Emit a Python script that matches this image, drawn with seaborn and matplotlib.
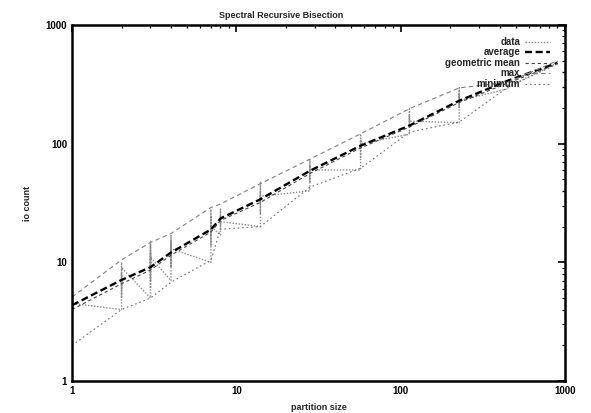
import matplotlib
matplotlib.use('Agg')
import matplotlib.pyplot as plt
import numpy as np
import pandas as pd
import seaborn as sns
from matplotlib.ticker import LogLocator, FixedLocator, FixedFormatter, NullFormatter

# %%
'''Data'''

## raw samples, one column of io counts per partition size
raw_sizes = [1, 2, 3, 4, 7, 8, 14, 28, 57, 113, 227, 450, 900]
raw_counts = [
    [2, 5, 3, 4, 2.5, 4.5],
    [4, 10, 6, 8, 5, 9],
    [5, 15, 7, 12, 6, 14, 9, 11],
    [7, 17, 9, 15, 11, 13],
    [10, 28, 14, 24, 17, 20],
    [17, 28, 20, 25, 22],
    [20, 48, 26, 40, 32, 36],
    [40, 74, 48, 66, 55, 60],
    [60, 121, 75, 108, 90, 100],
    [120, 196, 140, 175, 155],
    [150, 295, 200, 260, 230],
    [290, 320, 300],
    [480, 500],
]

## summary lines
sizes = [1, 2, 3, 4, 7, 8, 14, 28, 57, 113, 227, 450, 900]
average = [4.35, 7.1, 9.1, 12.1, 18.9, 23.4, 34, 59, 96, 142, 230, 340, 480]
geo_mean = [4.0, 6.6, 8.6, 11.5, 18, 22.5, 32, 56, 92, 138, 222, 325, 470]
max_count = [5.1, 10.5, 14.7, 17.5, 29, 31, 46, 74, 121, 197, 295, 330, 500]
min_count = [2, 4, 5, 6.8, 10.4, 19, 20, 43, 62, 125, 152, 300, 470]

raw = pd.DataFrame({
    'size': [s for s, c in zip(raw_sizes, raw_counts) for _ in c],
    'count': [v for c in raw_counts for v in c],
})

# %%
'''Plot'''

sns.set_style('white')
plt.rcParams['font.family'] = ['Liberation Sans', 'DejaVu Sans']
plt.rcParams['font.weight'] = 'bold'

fig, ax = plt.subplots(figsize=(5.91, 4.13), dpi=100)
fig.subplots_adjust(left=0.122, right=0.956, top=0.9395, bottom=0.0775)

sns.lineplot(data=raw, x='size', y='count', sort=False, estimator=None, ax=ax,
             color='#8a8a8a', lw=1.0, linestyle=(0, (1, 1.2)), label='data')
sns.lineplot(x=sizes, y=average, ax=ax, color='black', lw=1.7,
             linestyle=(0, (3, 1.5)), label='average')
sns.lineplot(x=sizes, y=geo_mean, ax=ax, color='#444444', lw=0.8,
             linestyle=(0, (3, 2.5)), label='geometric mean')
sns.lineplot(x=sizes, y=max_count, ax=ax, color='#808080', lw=0.8,
             linestyle=(0, (4, 3)), label='max')
sns.lineplot(x=sizes, y=min_count, ax=ax, color='#707070', lw=0.8,
             linestyle=(0, (1.5, 2.5)), label='minimum')

ax.set_xscale('log')
ax.set_yscale('log')
ax.set_xlim(1, 1000)
ax.set_ylim(1, 1000)

ticks = [1, 10, 100, 1000]
tick_labels = ['1', '10', '100', '1000']
for axis in (ax.xaxis, ax.yaxis):
    axis.set_major_locator(FixedLocator(ticks))
    axis.set_major_formatter(FixedFormatter(tick_labels))
    axis.set_minor_locator(LogLocator(base=10, subs=np.arange(2, 10)))
    axis.set_minor_formatter(NullFormatter())

ax.tick_params(which='both', direction='in', top=True, right=True,
               labelsize=7, colors='black')
ax.tick_params(which='major', length=5, width=1.2)
ax.tick_params(which='minor', length=2.5, width=0.9)
for sp in ax.spines.values():
    sp.set_linewidth(1.8)
    sp.set_color('black')

ax.set_title('Spectral Recursive Bisection', fontsize=6.5, fontweight='bold',
             pad=5, x=0.424)
ax.set_xlabel('partition size', fontsize=6.5, fontweight='bold', labelpad=5)
ax.set_ylabel('io count', fontsize=6.5, fontweight='bold', labelpad=10)

ax.legend(loc='upper right', bbox_to_anchor=(0.98, 0.98), frameon=False,
          markerfirst=False, fontsize=7, handlelength=2.6, handletextpad=0.5,
          labelspacing=0.05, borderpad=0)

fig.savefig('out.png', dpi=100)
